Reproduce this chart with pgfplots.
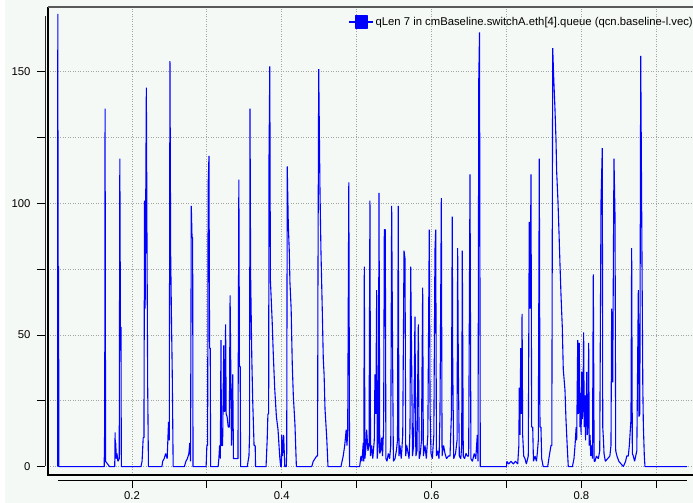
\documentclass[border=0pt]{standalone}
\usepackage{pgfplots}
\pgfplotsset{compat=1.18}
\usepackage{fontspec}
\setmainfont{Liberation Sans}
\definecolor{bgc}{RGB}{245,249,246}
\definecolor{qblue}{RGB}{0,0,255}
\definecolor{gridc}{RGB}{165,165,165}
\begin{document}
\begin{tikzpicture}[x=1pt,y=1pt]
\useasboundingbox (0,0) rectangle (693,503);
\fill[white] (0,0) rectangle (693,503);
\fill[bgc] (5,0) rectangle (693,503);
\begin{axis}[
  at={(48pt,28pt)}, anchor=south west,
  scale only axis, width=645pt, height=468pt,
  xmin=0.0879, xmax=0.9490, ymin=-3.2, ymax=174.6,
  clip mode=individual,
  axis x line*=bottom, axis y line*=left,
  axis x line shift=5pt, axis y line shift=3pt,
  x axis line style={-, shorten <=10pt, shorten >=6pt, line width=0.9pt, black},
  y axis line style={-, shorten <=9pt, shorten >=9pt, line width=0.9pt, black!85},
  xtick={0.2,0.3,0.4,0.5,0.6,0.7,0.8,0.9}, xticklabels={0.2,,0.4,,0.6,,0.8,},
  ytick={0,25,50,75,100,125,150}, yticklabels={0,,50,,100,,150},
  tick align=outside, major tick length=8pt,
  tick style={black, line width=0.9pt},
  grid=major, major grid style={gridc, line width=0.8pt, dash pattern=on 1pt off 1.5pt},
  ticklabel style={font=\fontsize{11.3}{13}\selectfont},
  xticklabel style={yshift=-0.5pt},
  yticklabel style={xshift=-3pt},
  /pgf/number format/assume math mode=true,
  legend style={at={(1,1)}, anchor=north east, xshift=5pt, yshift=-6pt,
    draw=none, fill=none, font=\fontsize{11.3}{13}\selectfont},
  legend image code/.code={\draw[qblue, line width=1.5pt] (0pt,0pt) -- (23.4pt,0pt);
    \fill[qblue] (5.7pt,-6pt) rectangle (17.7pt,6pt);},
]
\addplot[qblue, line width=1.1pt, line join=bevel] coordinates {
(0.1008,0) (0.1010,172) (0.1014,76) (0.1020,76) (0.1024,0)
(0.1630,0) (0.1632,11) (0.1636,11) (0.1641,136) (0.1648,2) (0.1700,0)
(0.1770,0) (0.1775,13) (0.1779,3) (0.1784,9) (0.1790,3) (0.1800,5) (0.1812,2) (0.1830,3) (0.1838,117) (0.1846,53) (0.1853,53) (0.1858,0)
(0.2120,0) (0.2135,2) (0.2150,11) (0.2160,11) (0.2168,101) (0.2176,60) (0.2192,144) (0.2200,89) (0.2210,30) (0.2220,0)
(0.2400,0) (0.2410,2) (0.2430,3) (0.2450,5) (0.2470,3) (0.2488,17) (0.2498,10) (0.2507,154) (0.2517,80) (0.2527,57) (0.2538,35) (0.2550,0)
(0.2700,0) (0.2720,2) (0.2740,3) (0.2760,5) (0.2772,9) (0.2782,2) (0.2792,99) (0.2802,87) (0.2810,87) (0.2815,0)
(0.2990,0) (0.3000,8) (0.3010,8) (0.3017,107) (0.3028,118) (0.3036,45) (0.3045,45) (0.3050,0)
(0.3150,0) (0.3160,3) (0.3170,8) (0.3180,3) (0.3188,48) (0.3195,8) (0.3210,8) (0.3225,46) (0.3232,21) (0.3240,21) (0.3250,54) (0.3258,20) (0.3270,19) (0.3285,15) (0.3300,15) (0.3310,65) (0.3318,41) (0.3328,8) (0.3345,35) (0.3355,3) (0.3380,3) (0.3415,3) (0.3427,109) (0.3435,38) (0.3445,38) (0.3450,0)
(0.3540,0) (0.3550,2) (0.3562,4) (0.3570,12) (0.3576,136) (0.3584,73) (0.3592,57) (0.3600,41) (0.3612,25) (0.3630,8) (0.3645,8) (0.3650,0)
(0.3790,0) (0.3805,10) (0.3815,20) (0.3825,20) (0.3829,115) (0.3840,152) (0.3848,71) (0.3860,63) (0.3872,55) (0.3885,44) (0.3905,30) (0.3928,19) (0.3950,14) (0.3972,4) (0.3985,0)
(0.3995,0) (0.4000,12) (0.4010,4) (0.4025,12) (0.4040,0)
(0.4060,0) (0.4066,5) (0.4073,114) (0.4087,92) (0.4100,82) (0.4109,70) (0.4125,60) (0.4140,39) (0.4154,27) (0.4176,16) (0.4195,0)
(0.4400,0) (0.4420,2) (0.4443,3) (0.4465,4) (0.4478,4) (0.4483,70) (0.4493,151) (0.4510,105) (0.4523,82) (0.4541,59) (0.4554,41) (0.4565,35) (0.4577,22) (0.4600,11) (0.4617,0)
(0.4790,0) (0.4805,2) (0.4820,4) (0.4840,8) (0.4860,14) (0.4870,8) (0.4880,13) (0.4895,108) (0.4905,0)
(0.5040,0) (0.5057,4) (0.5070,2) (0.5088,9) (0.5095,2) (0.5102,76) (0.5110,3) (0.5125,8) (0.5133,14) (0.5150,6) (0.5165,8) (0.5177,101) (0.5185,4) (0.5200,8) (0.5215,3) (0.5235,10) (0.5244,35) (0.5255,20) (0.5267,67) (0.5275,3) (0.5290,10) (0.5298,104) (0.5308,5) (0.5320,6) (0.5334,11) (0.5345,4) (0.5360,15) (0.5369,90) (0.5382,90) (0.5390,3) (0.5405,2) (0.5422,5) (0.5440,3) (0.5455,8) (0.5467,99) (0.5480,40) (0.5490,2) (0.5511,3) (0.5530,6) (0.5545,10) (0.5555,99) (0.5565,4) (0.5578,8) (0.5595,3) (0.5615,12) (0.5632,82) (0.5645,79) (0.5655,4) (0.5668,8) (0.5681,6) (0.5700,3) (0.5712,15) (0.5721,76) (0.5734,40) (0.5745,4) (0.5760,8) (0.5778,57) (0.5790,4) (0.5805,6) (0.5823,54) (0.5835,3) (0.5850,5) (0.5865,10) (0.5881,68) (0.5890,4) (0.5912,8) (0.5930,3) (0.5950,12) (0.5969,90) (0.5980,21) (0.5992,5) (0.6010,3) (0.6030,12) (0.6045,82) (0.6055,90) (0.6065,4) (0.6080,6) (0.6100,3) (0.6112,20) (0.6121,60) (0.6130,102) (0.6140,4) (0.6160,8) (0.6179,5) (0.6200,3) (0.6225,4) (0.6246,4) (0.6265,20) (0.6276,95) (0.6282,40) (0.6295,3) (0.6320,5) (0.6340,10) (0.6348,83) (0.6357,38) (0.6370,4) (0.6390,3) (0.6402,8) (0.6410,82) (0.6423,4) (0.6440,3) (0.6460,5) (0.6477,4) (0.6495,4) (0.6513,111) (0.6525,3) (0.6545,2) (0.6570,5) (0.6590,3) (0.6610,12) (0.6620,2) (0.6630,147) (0.6640,165) (0.6650,0)
(0.7000,0) (0.7005,2) (0.7030,1) (0.7060,2) (0.7090,1) (0.7120,2) (0.7150,1) (0.7165,8) (0.7171,30) (0.7180,12) (0.7190,45) (0.7198,20) (0.7208,58) (0.7216,12) (0.7230,4) (0.7247,3) (0.7265,1) (0.7291,4) (0.7304,93) (0.7316,60) (0.7327,111) (0.7336,15) (0.7350,15) (0.7360,2) (0.7381,4) (0.7400,2) (0.7411,5) (0.7425,10) (0.7438,117) (0.7447,15) (0.7460,15) (0.7470,3) (0.7490,0)
(0.7550,0) (0.7571,4) (0.7594,8) (0.7605,8) (0.7617,159) (0.7630,148) (0.7647,136) (0.7661,124) (0.7670,112) (0.7687,101) (0.7701,89) (0.7714,77) (0.7728,65) (0.7745,53) (0.7758,37) (0.7781,29) (0.7794,18) (0.7812,7) (0.7825,0)
(0.7880,0) (0.7901,3) (0.7915,8) (0.7930,15) (0.7937,10) (0.7951,48) (0.7958,20) (0.7965,25) (0.7972,47) (0.7980,15) (0.7988,28) (0.7996,12) (0.8004,36) (0.8012,18) (0.8020,22) (0.8030,51) (0.8038,15) (0.8048,27) (0.8056,10) (0.8063,20) (0.8071,36) (0.8080,12) (0.8090,18) (0.8097,47) (0.8105,8) (0.8115,12) (0.8125,4) (0.8137,8) (0.8148,3) (0.8159,73) (0.8170,2) (0.8182,2) (0.8200,4) (0.8226,3) (0.8245,6) (0.8262,101) (0.8279,121) (0.8285,15) (0.8295,10) (0.8302,5) (0.8320,2) (0.8350,3) (0.8380,4) (0.8395,8) (0.8404,60) (0.8418,32) (0.8435,117) (0.8449,95) (0.8458,6) (0.8475,4) (0.8500,2) (0.8530,1) (0.8560,0) (0.8590,2) (0.8605,4) (0.8626,4) (0.8640,8) (0.8662,18) (0.8671,83) (0.8680,5) (0.8693,4) (0.8710,2) (0.8740,6) (0.8760,67) (0.8769,19) (0.8780,20) (0.8792,156) (0.8809,79) (0.8820,30) (0.8827,16) (0.8840,4) (0.8849,0)
(0.9410,0)
};
\addlegendentry{qLen 7 in cmBaseline.switchA.eth[4].queue (qcn.baseline-l.vec)}
\draw[black, line width=1.2pt] (rel axis cs:0,1) -- (rel axis cs:0,0) -- (rel axis cs:1,0);
\draw[black!65, line width=1.5pt] (rel axis cs:0,1) -- (rel axis cs:1,1);
\end{axis}
\end{tikzpicture}
\end{document}
